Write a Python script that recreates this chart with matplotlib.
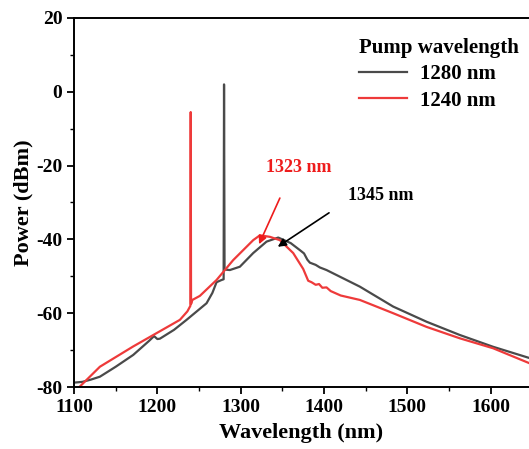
import matplotlib.pyplot as plt

# pump 1280 nm (gray)
gray_x = [1100, 1110, 1120, 1131, 1150, 1171, 1190, 1196, 1200, 1203, 1220, 1235, 1259, 1266,
          1271, 1277, 1279.5, 1280, 1280.6, 1282, 1287, 1299, 1315, 1331, 1345, 1360, 1371,
          1376, 1380, 1383, 1390, 1395, 1403, 1443, 1483, 1523, 1563, 1603, 1646]
gray_y = [-78.8, -78.6, -78.0, -77.2, -74.5, -71.3, -67.5, -66.2, -67.0, -66.9, -64.5, -61.8,
          -57.3, -54.5, -51.6, -51.0, -50.8, 2.0, -48.0, -48.2, -48.3, -47.4, -43.7, -40.6,
          -39.5, -41.0, -42.9, -43.8, -45.5, -46.3, -46.9, -47.6, -48.3, -52.8, -58.2, -62.3,
          -65.9, -69.1, -72.1]

# pump 1240 nm (red)
red_x = [1105, 1131, 1171, 1199, 1227, 1236, 1239.6, 1240, 1240.4, 1242, 1251, 1271, 1291,
         1315, 1323, 1335, 1347, 1363, 1375, 1381, 1385, 1390, 1394, 1398, 1403, 1408, 1420,
         1443, 1483, 1523, 1563, 1603, 1646]
red_y = [-80.3, -74.5, -69.0, -65.4, -61.8, -59.5, -58.0, -5.5, -57.5, -56.4, -55.3, -51.0,
         -45.6, -40.2, -38.9, -39.3, -40.2, -43.7, -48.0, -51.2, -51.6, -52.3, -52.1, -53.1,
         -53.0, -54.0, -55.2, -56.4, -60.0, -63.7, -66.8, -69.5, -73.5]

plt.rcParams['font.family'] = 'Liberation Serif'
plt.rcParams['font.weight'] = 'bold'
plt.rcParams['axes.unicode_minus'] = False

fig = plt.figure(figsize=(5.29, 4.49), dpi=100)
ax = fig.add_axes([0.14, 0.138, 0.86, 0.822])

ax.plot(gray_x, gray_y, color='#4a4a4a', lw=1.6, label='1280 nm')
ax.plot(red_x, red_y, color='#ee3a3a', lw=1.6, label='1240 nm')

ax.set_xlim(1100, 1646)
ax.set_ylim(-80, 20)
ax.set_xticks([1100, 1200, 1300, 1400, 1500, 1600])
ax.set_xticks(range(1150, 1650, 100), minor=True)
ax.set_yticks(range(-80, 21, 20))
ax.set_yticks(range(-70, 20, 20), minor=True)
ax.tick_params(which='major', direction='out', length=5, width=1.3, labelsize=14)
ax.tick_params(which='minor', direction='out', length=3, width=1.0)
for lab in ax.get_xticklabels() + ax.get_yticklabels():
    lab.set_fontweight('bold')
for s in ['left', 'bottom', 'top']:
    ax.spines[s].set_linewidth(1.4)
ax.spines['right'].set_visible(False)

ax.set_xlabel('Wavelength (nm)', fontsize=16, fontweight='bold', labelpad=5)
ax.set_ylabel('Power (dBm)', fontsize=16, fontweight='bold', labelpad=2)

leg = ax.legend(title='Pump wavelength', loc='upper left', bbox_to_anchor=(0.609, 0.968),
                frameon=False, prop={'size': 15, 'weight': 'bold'}, handlelength=2.3,
                handletextpad=0.6, borderaxespad=0.0, labelspacing=0.3)
leg.get_title().set_fontsize(15)
leg.get_title().set_fontweight('bold')
leg._legend_box.align = 'left'

# arrows
ax.annotate('', xy=(1322, -41.3), xytext=(1347, -28.8),
            arrowprops=dict(arrowstyle='-|>', color='#ee1c1c', lw=1.2, mutation_scale=12,
                            shrinkA=0, shrinkB=0))
ax.annotate('', xy=(1344.5, -42.0), xytext=(1406, -32.8),
            arrowprops=dict(arrowstyle='-|>', color='black', lw=1.2, mutation_scale=12,
                            shrinkA=0, shrinkB=0))
ax.text(1370, -20.6, '1323 nm', color='#ee1c1c', fontsize=13, fontweight='bold',
        ha='center', va='center')
ax.text(1468, -28.2, '1345 nm', color='black', fontsize=13, fontweight='bold',
        ha='center', va='center')

fig.savefig('out.png', dpi=100)
